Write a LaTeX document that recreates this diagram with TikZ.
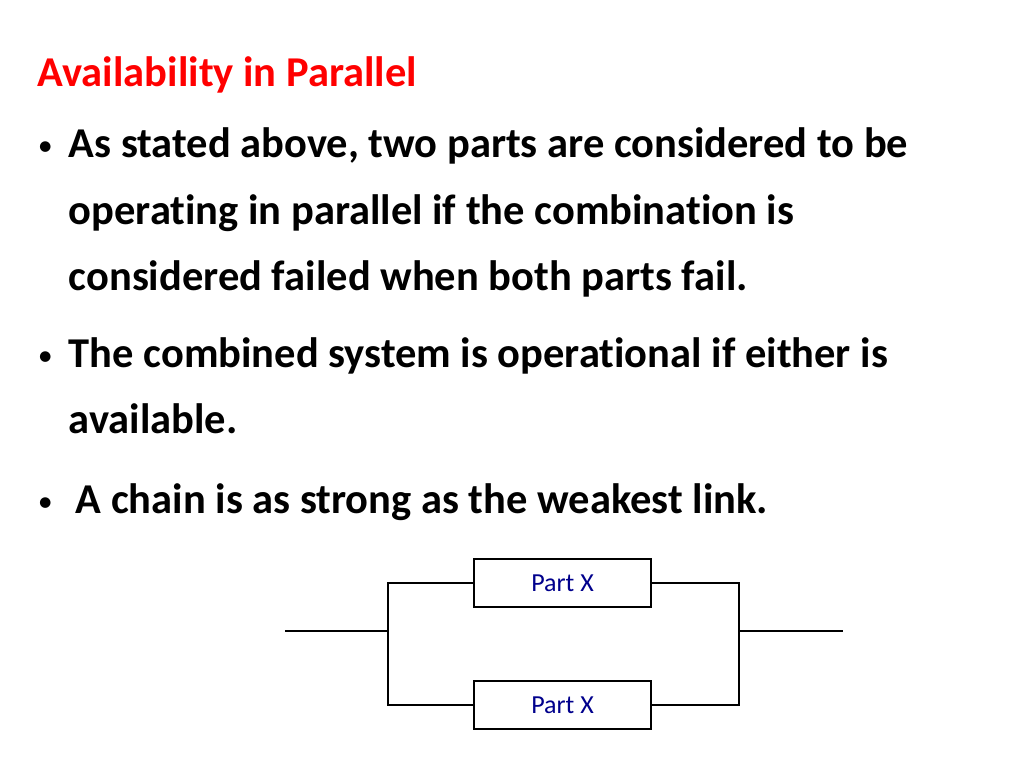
\documentclass[tikz,border=0pt]{standalone}
\usepackage{fontspec}
\setmainfont[Ligatures=NoCommon]{Carlito}
\definecolor{titlered}{RGB}{255,0,0}
\definecolor{partblue}{RGB}{0,0,140}
\tikzset{every picture/.style={line width=1.5pt}}
\tikzset{
  txt/.style={anchor=base west, inner sep=0pt, font=\fontsize{42.5}{46}\selectfont\bfseries},
  dot/.style={anchor=base west, inner sep=0pt, font=\fontsize{30}{32}\selectfont},
  partbox/.style={draw, minimum width=177pt, minimum height=48pt, inner sep=0pt,
    font=\fontsize{26}{28}\selectfont, text=partblue}
}
\begin{document}
\begin{tikzpicture}[x=1pt,y=1pt,yscale=-1,xscale=1]
\useasboundingbox (0,0) rectangle (1024,768);

\node [txt, text=titlered] (title) at (37,86) {Availability in Parallel};
\node [dot] (b1) at (37,155) {\textbullet};
\node [txt] (l1) at (68,157) {As stated above, two parts are considered to be};
\node [txt] (l2) at (68,224) {operating in parallel if the combination is};
\node [txt] (l3) at (68,290) {considered failed when both parts fail.};
\node [dot] (b2) at (37,365) {\textbullet};
\node [txt] (l4) at (68,367) {The combined system is operational if either is};
\node [txt] (l5) at (68,433) {available.};
\node [dot] (b3) at (37,511) {\textbullet};
\node [txt] (l6) at (75,513) {A chain is as strong as the weakest link.};

%parts
\node [partbox] (partA) at (562.5,583) {Part X};
\node [partbox] (partB) at (562.5,705) {Part X};

\coordinate (in) at (285,631);
\coordinate (out) at (843,631);
\coordinate (splitL) at (388,631);
\coordinate (splitR) at (739,631);

\draw (in) -- (splitL);
\draw (splitR) -- (out);
\draw (partA.west) -| (splitL) |- (partB.west);
\draw (partA.east) -| (splitR) |- (partB.east);
\end{tikzpicture}
\end{document}
